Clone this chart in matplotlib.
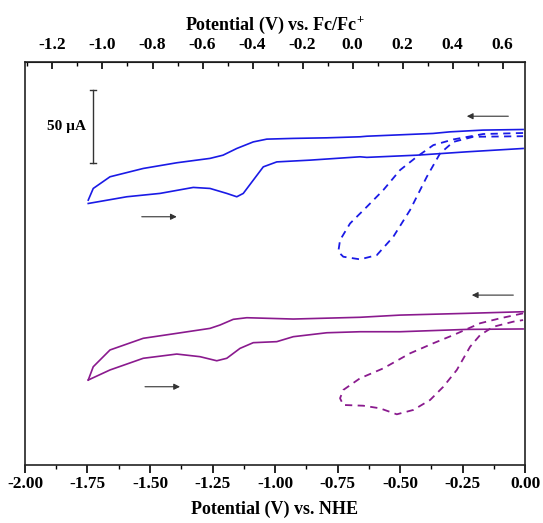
import matplotlib
matplotlib.use("Agg")
import matplotlib.pyplot as plt
from matplotlib.ticker import MultipleLocator, FixedLocator, FormatStrFormatter

plt.rcParams['font.family'] = ['Liberation Serif', 'DejaVu Serif']
plt.rcParams['font.weight'] = 'bold'
plt.rcParams['axes.unicode_minus'] = False
plt.rcParams['mathtext.fontset'] = 'custom'
plt.rcParams['mathtext.rm'] = 'Liberation Serif:bold'
plt.rcParams['mathtext.bf'] = 'Liberation Serif:bold'

# offset between the two potential scales (V): Fc/Fc+ = NHE + FC_OFFSET
FC_OFFSET = 0.69

# blue CV (potential vs NHE in V, current in uA, stacked offset)
blue_fwd_v = [-1.747, -1.593, -1.46, -1.327, -1.26, -1.193, -1.153, -1.127, -1.087,
              -1.047, -0.993, -0.86, -0.66, -0.633, -0.433, -0.233, -0.008]
blue_fwd_i = [179.2, 183.8, 186.1, 190.2, 189.5, 186.1, 183.8, 186.1, 195.2,
              204.3, 207.7, 208.9, 211.2, 210.8, 212.3, 214.6, 216.9]
blue_rev_v = [-0.008, -0.168, -0.30, -0.368, -0.633, -0.66, -0.793, -0.928, -1.033,
              -1.087, -1.153, -1.208, -1.26, -1.393, -1.527, -1.66, -1.727, -1.747]
blue_rev_i = [229.9, 229.5, 228.3, 227.2, 225.3, 224.9, 224.2, 223.8, 223.3,
              221.4, 216.9, 212.3, 210.1, 207.1, 203.2, 197.5, 189.5, 181.5]
blue_dash_v = [-0.008, -0.168, -0.287, -0.367, -0.433, -0.50, -0.567, -0.633, -0.70,
               -0.74, -0.747, -0.727, -0.66, -0.593, -0.527, -0.46, -0.393, -0.34,
               -0.287, -0.207, -0.008]
blue_dash_i = [227.5, 226.8, 223.1, 219.2, 211.2, 202.1, 188.4, 176.9, 165.5,
               154.1, 146.1, 142.7, 140.9, 143.8, 156.4, 174.7, 197.5, 213.5,
               221.4, 224.9, 225.3]

# purple CV
purp_fwd_v = [-1.747, -1.66, -1.527, -1.393, -1.30, -1.233, -1.193, -1.14, -1.087,
              -0.993, -0.927, -0.793, -0.66, -0.50, -0.233, -0.008]
purp_fwd_i = [58.2, 65.1, 73.1, 76.0, 74.2, 71.4, 73.1, 79.9, 83.8,
              84.5, 87.9, 90.6, 91.3, 91.3, 92.9, 93.2]
purp_rev_v = [-0.008, -0.233, -0.50, -0.66, -0.927, -1.113, -1.167, -1.22, -1.26,
              -1.393, -1.527, -1.66, -1.727, -1.747]
purp_rev_i = [105.0, 103.9, 102.7, 101.2, 100.0, 100.9, 99.8, 95.9, 93.6,
              90.2, 86.8, 78.8, 67.3, 58.2]
purp_dash_v = [-0.008, -0.10, -0.18, -0.287, -0.367, -0.46, -0.567, -0.66, -0.727,
               -0.74, -0.727, -0.647, -0.58, -0.513, -0.447, -0.38, -0.327, -0.273,
               -0.22, -0.18, -0.127, -0.047, -0.008]
purp_dash_i = [103.9, 100.5, 97.1, 89.0, 83.4, 76.5, 66.2, 59.4, 51.4,
               45.7, 41.1, 40.6, 38.8, 34.7, 37.7, 44.5, 53.6, 65.1,
               81.0, 89.0, 94.7, 98.2, 99.3]

# scan direction arrows: (tail_v, tip_v, current)
arrows = [(-0.067, -0.233, 239.0), (-1.533, -1.393, 170.1),
          (-0.047, -0.213, 116.4), (-1.52, -1.38, 53.6)]

# scale bar
bar_v = -1.727
bar_lo, bar_hi = 206.8, 256.8

bottom_ticks = [-2.0, -1.75, -1.5, -1.25, -1.0, -0.75, -0.5, -0.25, 0.0]
top_ticks = [-1.2, -1.0, -0.8, -0.6, -0.4, -0.2, 0.0, 0.2, 0.4, 0.6]
top_minor = [-1.3, -1.1, -0.9, -0.7, -0.5, -0.3, -0.1, 0.1, 0.3, 0.5]

BLUE = '#1a1ae6'
PURPLE = '#8a1a8e'

fig = plt.figure(figsize=(5.43, 5.23), dpi=100)
ax = fig.add_axes([0.046, 0.111, 0.921, 0.770])

ax.plot(blue_fwd_v, blue_fwd_i, color=BLUE, lw=1.2)
ax.plot(blue_rev_v, blue_rev_i, color=BLUE, lw=1.2)
ax.plot(blue_dash_v, blue_dash_i, color=BLUE, lw=1.3, ls=(0, (4, 3)))
ax.plot(purp_fwd_v, purp_fwd_i, color=PURPLE, lw=1.2)
ax.plot(purp_rev_v, purp_rev_i, color=PURPLE, lw=1.2)
ax.plot(purp_dash_v, purp_dash_i, color=PURPLE, lw=1.3, ls=(0, (4, 3)))

for tail, tip, cur in arrows:
    ax.annotate('', xy=(tip, cur), xytext=(tail, cur),
                arrowprops=dict(arrowstyle='-|>', color='#333333', lw=0.8,
                                mutation_scale=9, shrinkA=0, shrinkB=0))

ax.plot([bar_v, bar_v], [bar_lo, bar_hi], color='#333333', lw=1.0)
for yy in (bar_lo, bar_hi):
    ax.plot([bar_v - 0.012, bar_v + 0.012], [yy, yy], color='#333333', lw=1.0)
ax.text(bar_v - 0.03, (bar_lo + bar_hi) / 2, '50 µA', ha='right', va='center',
        fontsize=11, fontweight='bold')

ax.set_xlim(-2.0, 0.0)
ax.set_ylim(0, 276)
ax.set_yticks([])
for sp in ax.spines.values():
    sp.set_linewidth(1.2)
    sp.set_color('#222222')

ax.xaxis.set_major_locator(FixedLocator(bottom_ticks))
ax.xaxis.set_minor_locator(MultipleLocator(0.125))
ax.xaxis.set_major_formatter(FormatStrFormatter('%.2f'))
ax.tick_params(axis='x', which='major', direction='out', length=6, width=1.2,
               labelsize=12.5, pad=2, top=False)
ax.tick_params(axis='x', which='minor', direction='out', length=3, width=1.0, top=False)
ax.set_xlabel('Potential (V) vs. NHE', fontsize=13, fontweight='bold', labelpad=6)

top = ax.secondary_xaxis('top', functions=(lambda x: x + FC_OFFSET,
                                           lambda x: x - FC_OFFSET))
top.xaxis.set_major_locator(FixedLocator(top_ticks))
top.xaxis.set_minor_locator(FixedLocator(top_minor))
top.xaxis.set_major_formatter(FormatStrFormatter('%.1f'))
top.tick_params(axis='x', which='major', direction='in', length=5, width=1.2,
                labelsize=12.5, pad=6.5)
top.tick_params(axis='x', which='minor', direction='in', length=3, width=1.0)
top.set_xlabel('Potential (V) vs. Fc/Fc$^{+}$', fontsize=13,
               fontweight='bold', labelpad=5)

fig.savefig('out.png', dpi=100)
